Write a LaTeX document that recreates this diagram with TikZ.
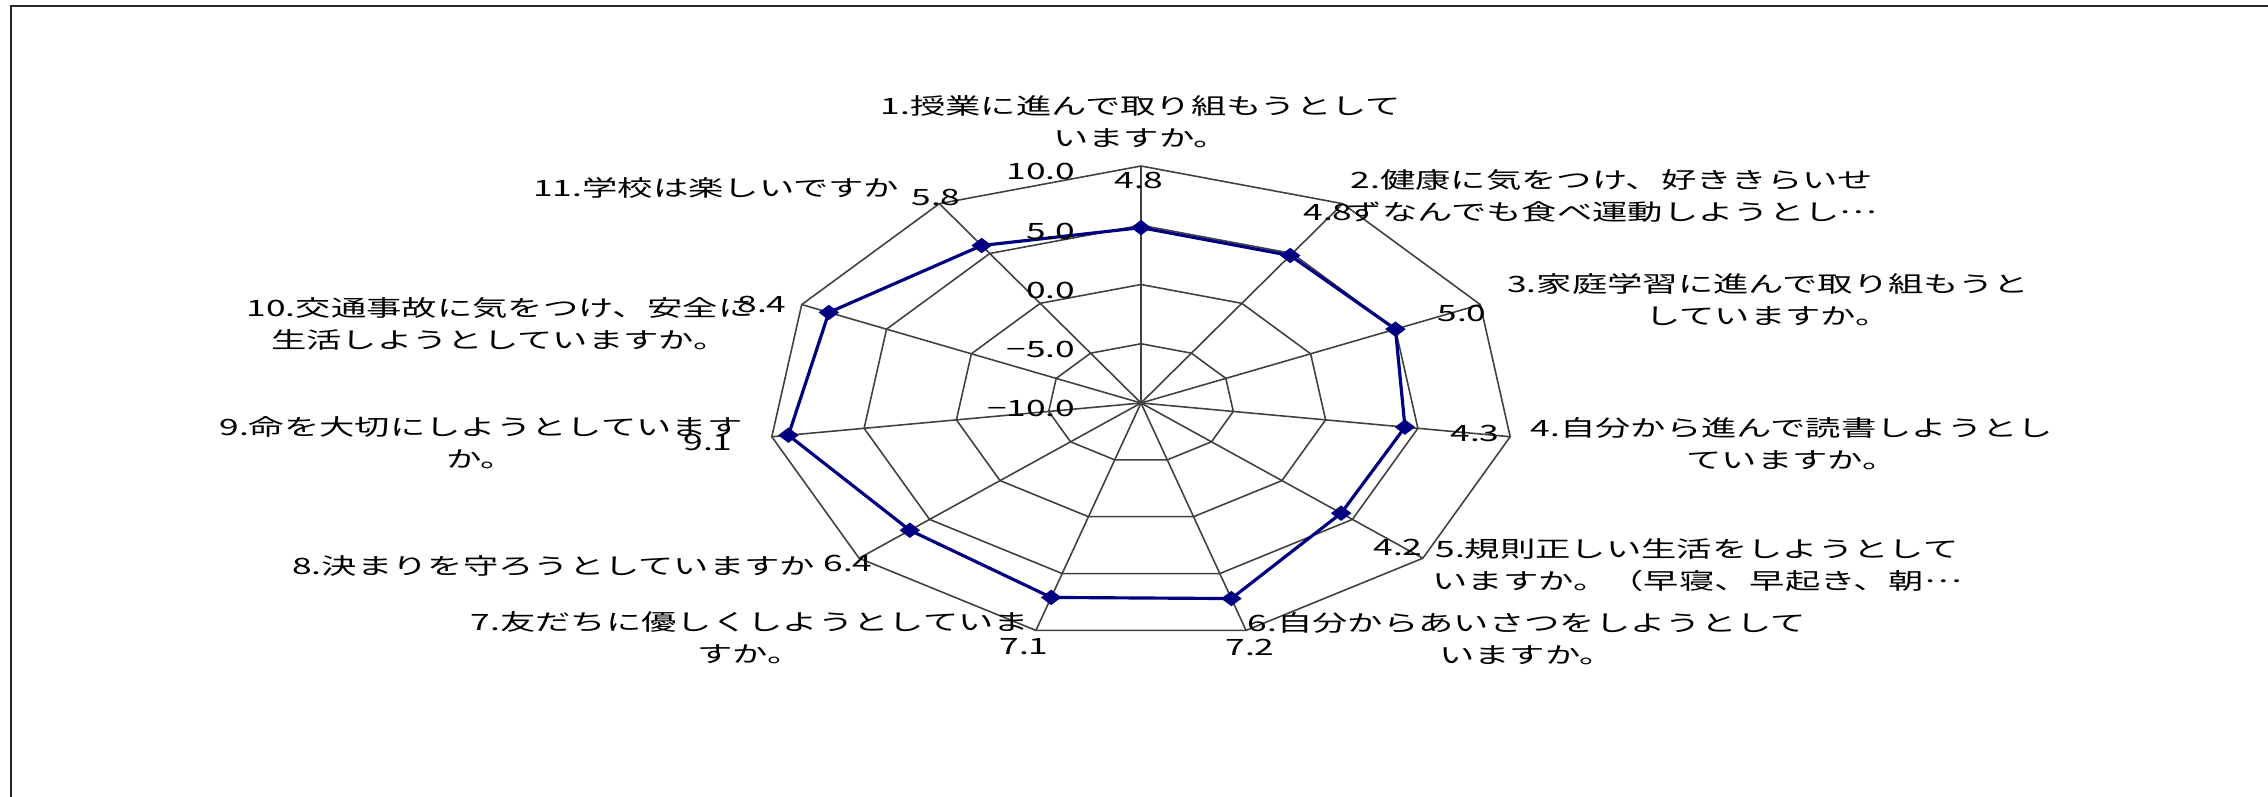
\documentclass[tikz,border=0pt]{standalone}
\usepackage{fontspec}
\usepackage{graphicx}
\newfontfamily\jpfont{Noto Sans CJK JP}
\usetikzlibrary{shapes.geometric}
\definecolor{navyline}{RGB}{0,0,128}
\newcommand{\stretchtxt}[1]{\scalebox{1.57}[1]{#1}}
\newcommand{\cdts}{\raisebox{0.3em}{…}}

\begin{document}
\begin{tikzpicture}[x=0.01cm,y=-0.01cm,
    grid/.style={draw=black!75,line width=0.45pt},
    series/.style={draw=navyline,line width=0.9pt},
    datapt/.style={diamond,fill=navyline,inner sep=0pt,minimum width=0.21cm,minimum height=0.16cm},
    cat/.style={font=\jpfont\fontsize{6.4}{9.1}\selectfont,align=center,inner sep=0pt},
    val/.style={font=\jpfont\fontsize{6.4}{9.1}\selectfont,inner sep=0pt}]

    \useasboundingbox (0,0) rectangle (2268,796);
    \draw[line width=0.8pt,black!85] (11,800) -- (11,6) -- (2280,6);

    % grid of the radar
    \coordinate (c) at (1141,403);
    \foreach \k in {1,...,11}{
        \pgfmathsetmacro{\ang}{(\k-1)*360/11}
        \foreach \r in {1,...,4}{
            \coordinate (r\r-\k) at ({1141+373*\r/4*sin(\ang)},{403-237*\r/4*cos(\ang)});
        }
    }
    \foreach \r in {1,...,4}
        \draw[grid] (r\r-1) \foreach \k in {2,...,11}{ -- (r\r-\k)} -- cycle;
    \foreach \k in {1,...,11}
        \draw[grid] (c) -- (r4-\k);

    % series
    \foreach \k/\v in {1/4.8,2/4.8,3/5.0,4/4.3,5/4.2,6/7.2,7/7.1,8/6.4,9/9.1,10/8.4,11/5.8}{
        \pgfmathsetmacro{\ang}{(\k-1)*360/11}
        \pgfmathsetmacro{\fr}{(\v+10)/20}
        \coordinate (d\k) at ({1141+373*\fr*sin(\ang)},{403-237*\fr*cos(\ang)});
    }
    \draw[series] (d1) \foreach \k in {2,...,11}{ -- (d\k)} -- cycle;
    \foreach \k in {1,...,11}
        \node[datapt] (m\k) at (d\k) {};

    % axis values
    \node[val,anchor=east] (t1) at (1076,171) {\stretchtxt{10.0}};
    \node[val,anchor=east] (t2) at (1076,231) {\stretchtxt{5.0}};
    \node[val,anchor=east] (t3) at (1076,290) {\stretchtxt{0.0}};
    \node[val,anchor=east] (t4) at (1076,349) {\stretchtxt{−5.0}};
    \node[val,anchor=east] (t5) at (1076,408) {\stretchtxt{−10.0}};

    % data labels
    \node[val] (v1) at (1139,180) {\stretchtxt{4.8}};
    \node[val] (v2) at (1328,212) {\stretchtxt{4.8}};
    \node[val] (v3) at (1462,313) {\stretchtxt{5.0}};
    \node[val] (v4) at (1475,433) {\stretchtxt{4.3}};
    \node[val] (v5) at (1398,547) {\stretchtxt{4.2}};
    \node[val] (v6) at (1250,647) {\stretchtxt{7.2}};
    \node[val] (v7) at (1024,647) {\stretchtxt{7.1}};
    \node[val] (v8) at (848,563) {\stretchtxt{6.4}};
    \node[val] (v9) at (708,442) {\stretchtxt{9.1}};
    \node[val] (v10) at (762,304) {\stretchtxt{8.4}};
    \node[val] (v11) at (936,197) {\stretchtxt{5.8}};

    % categories
    \node[cat] (l1) at (1141,122) {\stretchtxt{1.授業に進んで取り組もうとして}\\\stretchtxt{いますか。}};
    \node[cat] (l2) at (1612,196) {\stretchtxt{2.健康に気をつけ、好ききらいせ}\\\stretchtxt{ずなんでも食べ運動しようとし\cdts}};
    \node[cat] (l3) at (1768,300) {\stretchtxt{3.家庭学習に進んで取り組もうと}\\\stretchtxt{していますか。}};
    \node[cat] (l4) at (1792,444) {\stretchtxt{4.自分から進んで読書しようとし}\\\stretchtxt{ていますか。}};
    \node[cat] (l5) at (1697,565) {\stretchtxt{5.規則正しい生活をしようとして}\\\stretchtxt{いますか。（早寝、早起き、朝\cdts}};
    \node[cat] (l6) at (1527,639) {\stretchtxt{6.自分からあいさつをしようとして}\\\stretchtxt{いますか。}};
    \node[cat] (l7) at (750,638) {\stretchtxt{7.友だちに優しくしようとしていま}\\\stretchtxt{すか。}};
    \node[cat,anchor=east] (l8) at (816,566) {\stretchtxt{8.決まりを守ろうとしていますか}};
    \node[cat] (l9) at (481,443) {\stretchtxt{9.命を大切にしようとしています}\\\stretchtxt{か。}};
    \node[cat] (l10) at (500,324) {\stretchtxt{10.交通事故に気をつけ、安全に}\\\stretchtxt{生活しようとしていますか。}};
    \node[cat,anchor=east] (l11) at (900,188) {\stretchtxt{11.学校は楽しいですか}};
\end{tikzpicture}
\end{document}
